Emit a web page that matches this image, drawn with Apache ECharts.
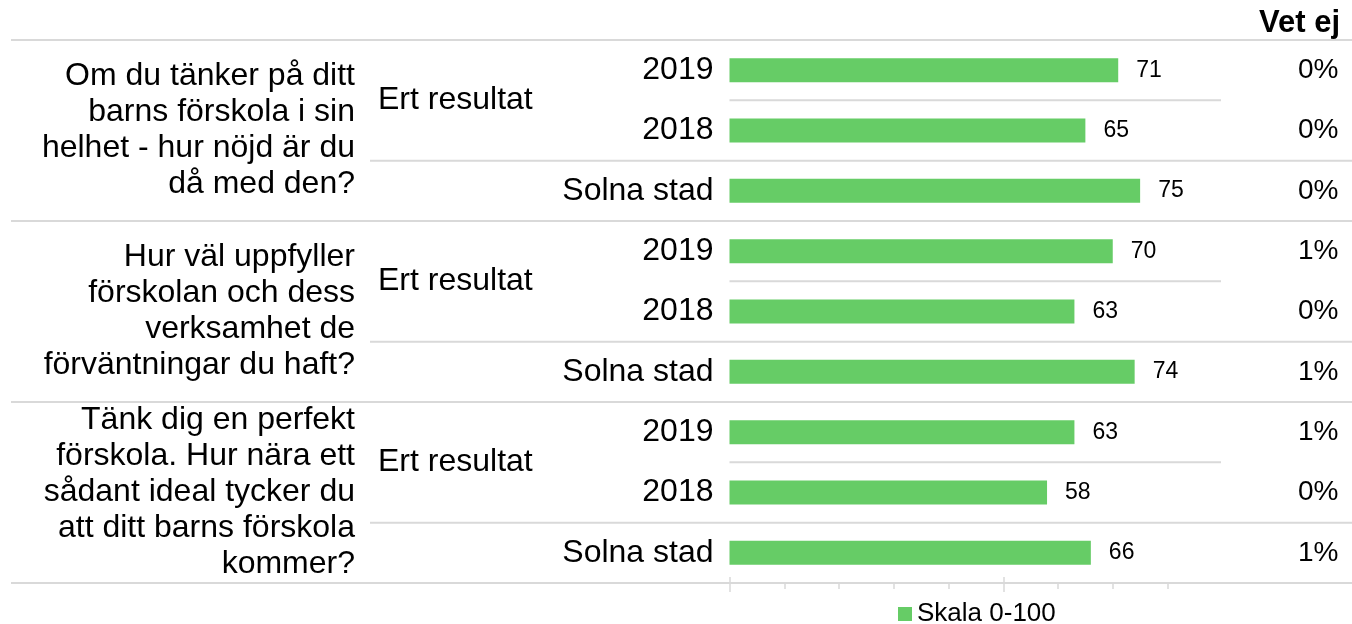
<!DOCTYPE html>
<html>
<head>
<meta charset="utf-8">
<script src="https://cdn.jsdelivr.net/npm/echarts@6/dist/echarts.min.js"></script>
<style>
  html, body { margin: 0; padding: 0; background: #fff; }
  #main { width: 1352px; height: 624px; }
</style>
</head>
<body>
<div id="main"></div>
<script>
// frågor (en per grupp)
var questions = [
  'Om du tänker på ditt\nbarns förskola i sin\nhelhet - hur nöjd är du\ndå med den?',
  'Hur väl uppfyller\nförskolan och dess\nverksamhet de\nförväntningar du haft?',
  'Tänk dig en perfekt\nförskola. Hur nära ett\nsådant ideal tycker du\natt ditt barns förskola\nkommer?'
]
var groupLabel = 'Ert resultat'
var rowLabels = ['2019', '2018', 'Solna stad', '2019', '2018', 'Solna stad', '2019', '2018', 'Solna stad']
var scores = [71, 65, 75, 70, 63, 74, 63, 58, 66]
var vetEj = ['0%', '0%', '0%', '1%', '0%', '1%', '1%', '0%', '1%']
var seriesName = 'Skala 0-100'
var xMin = 0, xMax = 80, xStep = 10
var majorTicks = [0, 50]

var green = '#66cc66'
var lineColor = '#d9d9d9'
var font = 'Liberation Sans, Arial, sans-serif'

var G = { left: 729.5, top: 40, width: 438, height: 543 }
var rowH = G.height / rowLabels.length
var rowsPerGroup = rowLabels.length / questions.length

// avgränsningslinjer
var lines = []
function hline(y, x1, x2) {
  lines.push({
    type: 'line', silent: true, z: 0,
    shape: { x1: x1, y1: y, x2: x2, y2: y },
    style: { stroke: lineColor, lineWidth: 2 }
  })
}
for (var g = 0; g <= questions.length; g++) {
  hline(G.top + g * rowsPerGroup * rowH, 11, 1352)
}
for (var g = 0; g < questions.length; g++) {
  var base = g * rowsPerGroup
  hline(G.top + (base + 1) * rowH, G.left, 1221)
  hline(G.top + (base + 2) * rowH, 370, 1352)
}

var myChart = echarts.init(document.getElementById('main'))

var tickAxis = function (extra) {
  var ax = {
    type: 'value', position: 'bottom', min: xMin, max: xMax, interval: xStep,
    axisLine: { show: false, onZero: false },
    axisLabel: { show: false },
    splitLine: { show: false },
    axisTick: { show: true, length: 6, lineStyle: { color: lineColor, width: 1.5 } }
  }
  Object.assign(ax.axisTick, extra)
  return ax
}

var option = {
  animation: false,
  textStyle: { fontFamily: font },
  title: {
    text: 'Vet ej',
    right: 12,
    top: 8,
    padding: 0,
    textStyle: { fontSize: 31, fontWeight: 'bold', color: '#000', fontFamily: font }
  },
  legend: {
    data: [seriesName],
    left: 898,
    top: 601,
    padding: 0,
    itemWidth: 14,
    itemHeight: 14,
    icon: 'rect',
    textStyle: { fontSize: 26, color: '#000', fontFamily: font }
  },
  grid: { left: G.left, top: G.top, width: G.width, height: G.height, containLabel: false },
  xAxis: [
    tickAxis({}),
    tickAxis({ length: 9, customValues: majorTicks }),
    tickAxis({ inside: true, length: 6, customValues: majorTicks })
  ],
  yAxis: [
    {
      // radetiketter
      type: 'category', position: 'left', inverse: true,
      data: rowLabels,
      axisLine: { show: false },
      axisTick: { show: false },
      axisLabel: { margin: 16, fontSize: 32, color: '#000', fontFamily: font }
    },
    {
      // Vet ej-kolumnen
      type: 'category', position: 'right', inverse: true,
      data: vetEj,
      axisLine: { show: false },
      axisTick: { show: false },
      axisLabel: { margin: 171, align: 'right', fontSize: 28, color: '#000', fontFamily: font }
    },
    {
      // frågorna
      type: 'category', position: 'left', inverse: true,
      data: questions,
      axisLine: { show: false },
      axisTick: { show: false },
      axisLabel: { margin: 374.5, fontSize: 32, lineHeight: 36, color: '#000', fontFamily: font }
    },
    {
      // "Ert resultat" mellan 2019 och 2018
      type: 'value', position: 'left', inverse: true,
      min: 0, max: rowLabels.length, interval: 1,
      axisLine: { show: false, onZero: false },
      axisTick: { show: false },
      splitLine: { show: false },
      axisLabel: {
        margin: 351.5, align: 'left', fontSize: 32, color: '#000', fontFamily: font,
        customValues: questions.map(function (q, i) { return i * rowsPerGroup + 1 }),
        formatter: function () { return groupLabel }
      }
    }
  ],
  series: [
    {
      name: seriesName,
      type: 'bar',
      xAxisIndex: 0,
      yAxisIndex: 0,
      data: scores,
      barWidth: 24,
      itemStyle: { color: green },
      label: {
        show: true,
        position: 'right',
        distance: 18,
        fontSize: 23,
        color: '#000',
        fontFamily: font
      }
    }
  ],
  graphic: lines
}

myChart.setOption(option)
</script>
</body>
</html>
